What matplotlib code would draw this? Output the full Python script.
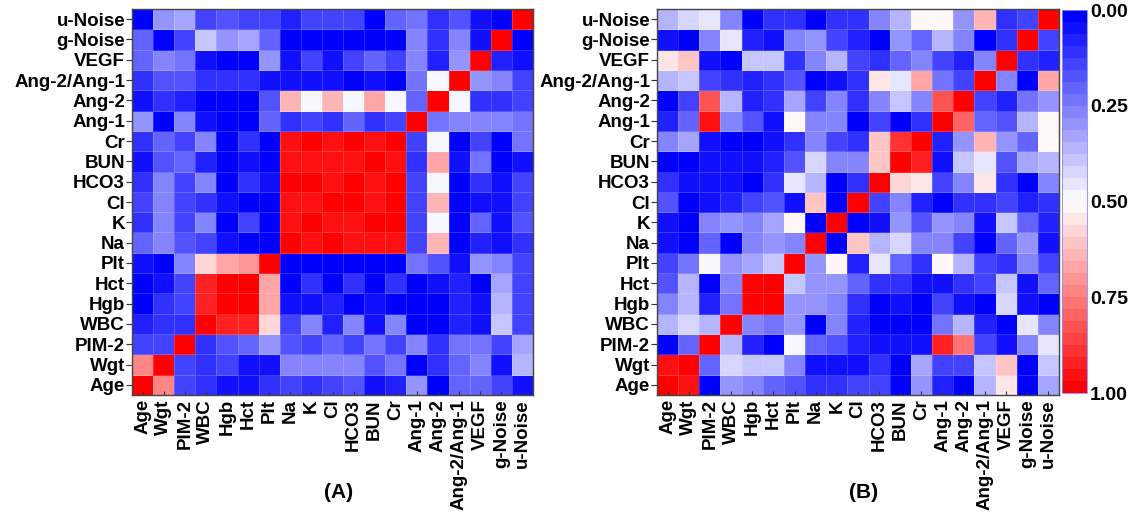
import matplotlib
matplotlib.use('Agg')
import matplotlib.pyplot as plt
import numpy as np
from matplotlib import rc

rc('font', **{'family': 'sans-serif', 'sans-serif': ['Liberation Sans', 'DejaVu Sans'], 'weight': 'bold'})

labels = ['Age', 'Wgt', 'PIM-2', 'WBC', 'Hgb', 'Hct', 'Plt', 'Na', 'K', 'Cl', 'HCO3',
          'BUN', 'Cr', 'Ang-1', 'Ang-2', 'Ang-2/Ang-1', 'VEGF', 'g-Noise', 'u-Noise']

# panel (A): rows in label order (Age first = bottom row)
corr_a = [
    [1.00, 0.72, 0.15, 0.12, 0.05, 0.05, 0.10, 0.15, 0.12, 0.15, 0.18, 0.05, 0.08, 0.30, 0.03, 0.20, 0.20, 0.15, 0.05],
    [0.72, 1.00, 0.15, 0.10, 0.15, 0.05, 0.05, 0.25, 0.25, 0.28, 0.28, 0.18, 0.22, 0.03, 0.12, 0.20, 0.25, 0.05, 0.35],
    [0.15, 0.15, 1.00, 0.12, 0.18, 0.20, 0.30, 0.18, 0.15, 0.20, 0.15, 0.22, 0.15, 0.25, 0.12, 0.22, 0.22, 0.15, 0.32],
    [0.08, 0.10, 0.10, 1.00, 0.93, 0.92, 0.58, 0.15, 0.28, 0.08, 0.25, 0.06, 0.25, 0.03, 0.03, 0.08, 0.05, 0.40, 0.15],
    [0.03, 0.10, 0.15, 0.92, 1.00, 1.00, 0.68, 0.05, 0.05, 0.08, 0.03, 0.06, 0.03, 0.03, 0.03, 0.08, 0.05, 0.35, 0.15],
    [0.02, 0.06, 0.15, 0.92, 1.00, 1.00, 0.68, 0.03, 0.12, 0.03, 0.10, 0.03, 0.10, 0.03, 0.05, 0.08, 0.03, 0.33, 0.15],
    [0.05, 0.02, 0.28, 0.58, 0.68, 0.70, 1.00, 0.03, 0.03, 0.03, 0.03, 0.03, 0.03, 0.22, 0.18, 0.06, 0.30, 0.25, 0.15],
    [0.20, 0.25, 0.18, 0.15, 0.05, 0.03, 0.03, 1.00, 0.95, 0.98, 0.95, 0.95, 0.95, 0.15, 0.65, 0.03, 0.08, 0.05, 0.12],
    [0.12, 0.25, 0.15, 0.28, 0.03, 0.15, 0.02, 0.95, 1.00, 0.95, 0.95, 1.00, 0.98, 0.15, 0.48, 0.03, 0.20, 0.05, 0.18],
    [0.15, 0.28, 0.15, 0.10, 0.05, 0.03, 0.03, 0.95, 0.95, 1.00, 0.97, 0.95, 0.97, 0.15, 0.65, 0.03, 0.05, 0.05, 0.15],
    [0.12, 0.25, 0.15, 0.25, 0.03, 0.10, 0.05, 0.98, 1.00, 0.95, 1.00, 0.95, 1.00, 0.15, 0.48, 0.02, 0.12, 0.05, 0.15],
    [0.05, 0.18, 0.20, 0.08, 0.03, 0.05, 0.03, 0.95, 0.95, 0.95, 0.95, 1.00, 0.95, 0.12, 0.68, 0.05, 0.22, 0.03, 0.05],
    [0.10, 0.20, 0.15, 0.25, 0.03, 0.12, 0.03, 0.95, 1.00, 0.95, 1.00, 0.95, 1.00, 0.15, 0.48, 0.02, 0.15, 0.03, 0.22],
    [0.30, 0.02, 0.25, 0.05, 0.03, 0.03, 0.20, 0.12, 0.15, 0.12, 0.20, 0.12, 0.15, 1.00, 0.22, 0.25, 0.28, 0.28, 0.22],
    [0.05, 0.10, 0.08, 0.03, 0.03, 0.03, 0.18, 0.65, 0.48, 0.65, 0.48, 0.68, 0.48, 0.20, 1.00, 0.48, 0.10, 0.12, 0.15],
    [0.10, 0.18, 0.18, 0.10, 0.10, 0.12, 0.05, 0.05, 0.05, 0.04, 0.03, 0.05, 0.03, 0.22, 0.48, 1.00, 0.30, 0.28, 0.15],
    [0.20, 0.25, 0.22, 0.05, 0.02, 0.02, 0.30, 0.05, 0.15, 0.04, 0.15, 0.20, 0.15, 0.25, 0.08, 0.30, 1.00, 0.08, 0.05],
    [0.20, 0.03, 0.15, 0.40, 0.30, 0.32, 0.20, 0.02, 0.02, 0.03, 0.02, 0.03, 0.03, 0.25, 0.12, 0.28, 0.05, 1.00, 0.03],
    [0.02, 0.30, 0.33, 0.15, 0.18, 0.15, 0.15, 0.08, 0.15, 0.15, 0.15, 0.03, 0.20, 0.22, 0.12, 0.18, 0.05, 0.02, 1.00],
]

# panel (B)
corr_b = [
    [1.00, 0.95, 0.03, 0.30, 0.25, 0.20, 0.18, 0.10, 0.10, 0.15, 0.15, 0.03, 0.30, 0.08, 0.03, 0.35, 0.55, 0.03, 0.32],
    [0.95, 1.00, 0.20, 0.42, 0.38, 0.38, 0.25, 0.05, 0.06, 0.05, 0.10, 0.03, 0.32, 0.15, 0.15, 0.38, 0.60, 0.03, 0.38],
    [0.03, 0.20, 1.00, 0.35, 0.08, 0.03, 0.48, 0.20, 0.18, 0.08, 0.06, 0.06, 0.05, 0.92, 0.78, 0.15, 0.05, 0.25, 0.45],
    [0.35, 0.42, 0.35, 1.00, 0.25, 0.22, 0.30, 0.03, 0.28, 0.08, 0.03, 0.03, 0.03, 0.22, 0.35, 0.08, 0.03, 0.45, 0.25],
    [0.25, 0.35, 0.08, 0.22, 1.00, 1.00, 0.30, 0.30, 0.25, 0.12, 0.03, 0.06, 0.03, 0.15, 0.06, 0.03, 0.42, 0.06, 0.03],
    [0.18, 0.35, 0.02, 0.25, 1.00, 1.00, 0.40, 0.30, 0.30, 0.20, 0.10, 0.10, 0.05, 0.05, 0.12, 0.15, 0.40, 0.05, 0.20],
    [0.15, 0.22, 0.48, 0.30, 0.33, 0.40, 1.00, 0.30, 0.52, 0.08, 0.45, 0.20, 0.10, 0.52, 0.35, 0.15, 0.12, 0.25, 0.15],
    [0.05, 0.03, 0.20, 0.03, 0.28, 0.30, 0.28, 1.00, 0.03, 0.62, 0.35, 0.42, 0.25, 0.25, 0.15, 0.02, 0.20, 0.30, 0.05],
    [0.05, 0.03, 0.25, 0.30, 0.25, 0.33, 0.52, 0.03, 1.00, 0.03, 0.06, 0.30, 0.18, 0.30, 0.28, 0.05, 0.40, 0.20, 0.08],
    [0.18, 0.02, 0.06, 0.08, 0.15, 0.18, 0.06, 0.62, 0.02, 1.00, 0.15, 0.28, 0.08, 0.03, 0.12, 0.12, 0.15, 0.08, 0.12],
    [0.10, 0.06, 0.05, 0.05, 0.03, 0.12, 0.45, 0.35, 0.03, 0.12, 1.00, 0.58, 0.55, 0.15, 0.28, 0.56, 0.12, 0.03, 0.28],
    [0.03, 0.03, 0.05, 0.05, 0.06, 0.08, 0.18, 0.42, 0.25, 0.25, 0.60, 1.00, 0.92, 0.05, 0.40, 0.45, 0.18, 0.32, 0.35],
    [0.25, 0.32, 0.05, 0.03, 0.03, 0.05, 0.10, 0.25, 0.15, 0.10, 0.60, 0.90, 1.00, 0.08, 0.30, 0.65, 0.30, 0.20, 0.52],
    [0.08, 0.20, 0.95, 0.25, 0.18, 0.05, 0.52, 0.25, 0.28, 0.03, 0.15, 0.03, 0.10, 1.00, 0.80, 0.20, 0.18, 0.35, 0.52],
    [0.02, 0.15, 0.82, 0.35, 0.08, 0.10, 0.32, 0.15, 0.25, 0.12, 0.25, 0.38, 0.28, 0.82, 1.00, 0.15, 0.08, 0.22, 0.30],
    [0.35, 0.38, 0.15, 0.10, 0.08, 0.12, 0.18, 0.03, 0.05, 0.12, 0.55, 0.45, 0.68, 0.22, 0.15, 1.00, 0.28, 0.02, 0.68],
    [0.55, 0.62, 0.05, 0.02, 0.38, 0.38, 0.12, 0.25, 0.35, 0.15, 0.12, 0.20, 0.28, 0.15, 0.08, 0.28, 1.00, 0.10, 0.08],
    [0.05, 0.02, 0.25, 0.45, 0.08, 0.05, 0.25, 0.30, 0.15, 0.08, 0.02, 0.30, 0.20, 0.35, 0.25, 0.03, 0.10, 1.00, 0.15],
    [0.35, 0.42, 0.45, 0.25, 0.03, 0.12, 0.12, 0.03, 0.10, 0.12, 0.28, 0.35, 0.52, 0.52, 0.30, 0.65, 0.10, 0.15, 1.00],
]

cbar_ticks = [0.0, 0.25, 0.5, 0.75, 1.0]
cbar_labels = ['0.00', '0.25', '0.50', '0.75', '1.00']
captions = ['(A)', '(B)']

W, H = 1131, 518
fig = plt.figure(figsize=(W / 100, H / 100), dpi=100)
cmap = plt.get_cmap('bwr', 32)

def panel(rect, data, caption):
  ax = fig.add_axes(rect)
  n = len(labels)
  m = ax.pcolormesh(np.arange(n + 1), np.arange(n + 1), np.array(data), cmap=cmap,
                    vmin=0, vmax=1, edgecolors=(1, 1, 1, 0.18), linewidth=0.5)
  ax.set_xlim(0, n)
  ax.set_ylim(0, n)
  ax.set_xticks(np.arange(n) + 0.5)
  ax.set_yticks(np.arange(n) + 0.5)
  ax.set_xticklabels(labels, rotation=90, fontsize=13.5, fontweight='bold')
  ax.set_yticklabels(labels, fontsize=13.5, fontweight='bold')
  ax.tick_params(axis='x', direction='in', length=3, width=0.8, pad=3, color='#333333')
  ax.tick_params(axis='y', direction='out', length=4, width=0.8, pad=1, color='#333333')
  for s in ax.spines.values():
    s.set_color('#444444')
    s.set_linewidth(1.0)
  x0 = rect[0] + rect[2] / 2
  fig.text(x0 + 0.005, 1 - 492 / H, caption, ha='center', va='center', fontsize=15, fontweight='bold')
  return m

m = panel([132 / W, 1 - 395 / H, 401 / W, 386 / H], corr_a, captions[0])
panel([657 / W, 1 - 395 / H, 402 / W, 386 / H], corr_b, captions[1])

cax = fig.add_axes([1062 / W, 1 - 393 / H, 25 / W, 383 / H])
cb = fig.colorbar(m, cax=cax)
cb.set_ticks(cbar_ticks)
cb.set_ticklabels(cbar_labels)
cax.invert_yaxis()
cax.tick_params(length=0, labelsize=14, pad=2)
for t in cax.get_yticklabels():
  t.set_fontweight('bold')
cb.outline.set_edgecolor('#8888ff')
cb.outline.set_linewidth(0.6)

plt.savefig('out.png', dpi=100)
